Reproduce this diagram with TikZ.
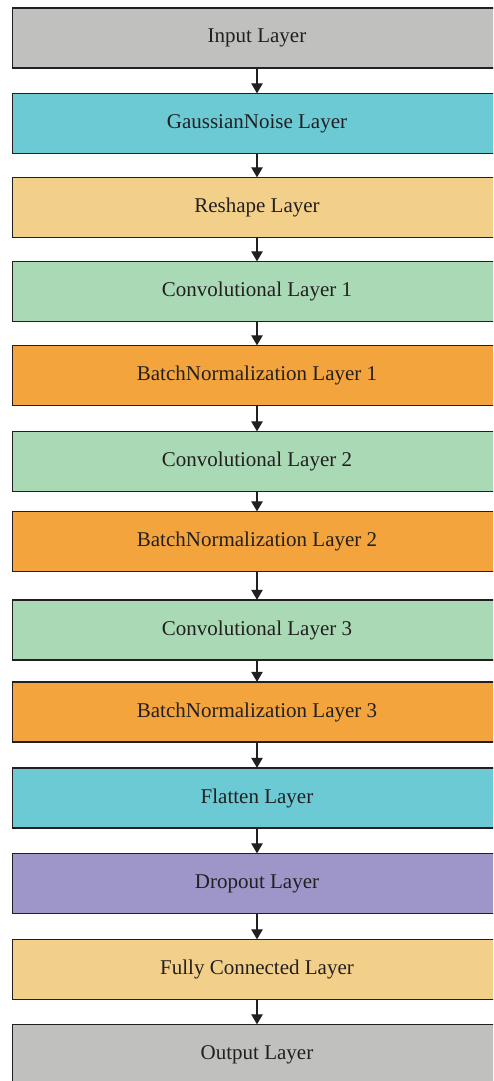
\documentclass[tikz,border=0pt]{standalone}
\usepackage{fontspec}
\setmainfont{Liberation Serif}
\usetikzlibrary{arrows.meta}
\definecolor{ink}{HTML}{231F20}
\definecolor{cgray}{HTML}{C0C0BE}
\definecolor{ccyan}{HTML}{6CCAD4}
\definecolor{ctan}{HTML}{F3D08A}
\definecolor{cgreen}{HTML}{AAD9B6}
\definecolor{corange}{HTML}{F4A43C}
\definecolor{cpurple}{HTML}{9E95C8}
\tikzset{
  layerbox/.style={draw=ink, line width=1.4pt, rectangle, inner sep=0pt,
    minimum width=489pt, minimum height=60pt, text=ink,
    font=\fontsize{21}{24}\selectfont},
  flow/.style={draw=ink, line width=1.1pt,
    -{Triangle[width=11.5pt,length=10pt]}, shorten >=-0.5pt}
}
\begin{document}
\begin{tikzpicture}[x=1pt,y=-1pt]
\useasboundingbox (0,0) rectangle (493,1081);
\clip (0,0) rectangle (493,1081);
\fill[white] (0,0) rectangle (493,1081);
\node[layerbox, fill=cgray]   (in)   at (257,38)    {Input Layer};
\node[layerbox, fill=ccyan]   (gn)   at (257,123.5) {GaussianNoise Layer};
\node[layerbox, fill=ctan]    (rs)   at (257,207.5) {Reshape Layer};
\node[layerbox, fill=cgreen]  (c1)   at (257,291.5) {Convolutional Layer 1};
\node[layerbox, fill=corange] (b1)   at (257,375.5) {BatchNormalization Layer 1};
\node[layerbox, fill=cgreen]  (c2)   at (257,461.5) {Convolutional Layer 2};
\node[layerbox, fill=corange] (b2)   at (257,541.5) {BatchNormalization Layer 2};
\node[layerbox, fill=cgreen]  (c3)   at (257,630)   {Convolutional Layer 3};
\node[layerbox, fill=corange] (b3)   at (257,712)   {BatchNormalization Layer 3};
\node[layerbox, fill=ccyan]   (fl)   at (257,798)   {Flatten Layer};
\node[layerbox, fill=cpurple] (dr)   at (257,883.5) {Dropout Layer};
\node[layerbox, fill=ctan]    (fc)   at (257,969.5) {Fully Connected Layer};
\node[layerbox, fill=cgray]   (out)  at (257,1054.5){Output Layer};
\foreach \a/\b in {in/gn, gn/rs, rs/c1, c1/b1, b1/c2, c2/b2, b2/c3, c3/b3, b3/fl, fl/dr, dr/fc, fc/out}
  \draw[flow] (\a.south) -- (\b.north);
\end{tikzpicture}
\end{document}
